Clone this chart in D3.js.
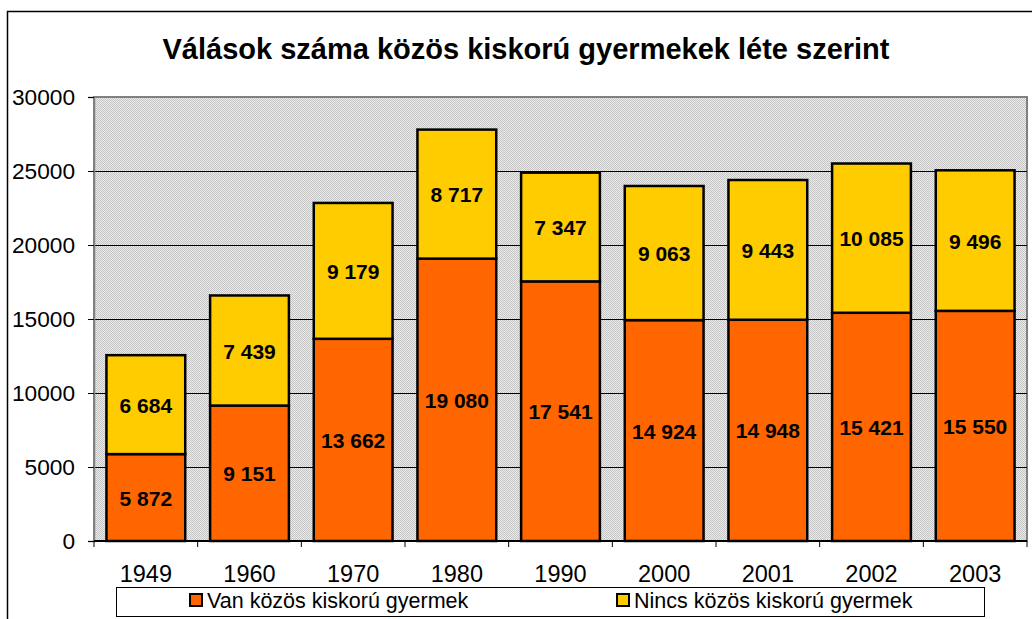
<!DOCTYPE html>
<html>
<head>
<meta charset="utf-8">
<script src="https://cdn.jsdelivr.net/npm/d3@7"></script>
<style>
  body { margin: 0; background: #fff; }
  svg { display: block; font-family: Arial, "Liberation Sans", sans-serif; }
</style>
</head>
<body>
<div class="top"></div>
<script>
// data
const years = ['1949','1960','1970','1980','1990','2000','2001','2002','2003'];
const withKids = [5872, 9151, 13662, 19080, 17541, 14924, 14948, 15421, 15550];
const withoutKids = [6684, 7439, 9179, 8717, 7347, 9063, 9443, 10085, 9496];
const seriesNames = ['Van közös kiskorú gyermek', 'Nincs közös kiskorú gyermek'];
const yTicks = [0, 5000, 10000, 15000, 20000, 25000, 30000];

const W = 1032, H = 619;
const plot = {left: 94, right: 1027, top: 97, bottom: 541};
const colors = ['#FF6600', '#FFCC00'];

const rows = years.map((y, i) => ({year: y, a: withKids[i], b: withoutKids[i]}));
const stacked = d3.stack().keys(['a','b'])(rows);

const x = d3.scaleBand().domain(years).range([plot.left, plot.right]).paddingInner(0.24).paddingOuter(0.12);
const xEdge = d3.scaleBand().domain(years).range([plot.left, plot.right]);
const y = d3.scaleLinear().domain([0, 30000]).range([plot.bottom, plot.top]);
const fmt = v => d3.format(',')(v).replace(/,/g, ' ');

const svg = d3.select('.top').append('svg').attr('width', W).attr('height', H);

svg.append('defs').append('pattern')
  .attr('id','dots').attr('width',2).attr('height',2).attr('patternUnits','userSpaceOnUse')
  .call(p=>{
    p.append('rect').attr('width',2).attr('height',2).attr('fill','#ececec');
    p.append('rect').attr('width',1).attr('height',1).attr('fill','#c4c4c4');
    p.append('rect').attr('x',1).attr('y',1).attr('width',1).attr('height',1).attr('fill','#c4c4c4');
  });

// chart border
svg.append('rect').attr('x',7.5).attr('y',11.5).attr('width',1200).attr('height',800)
  .attr('fill','none').attr('stroke','#000').attr('stroke-width',1.5);

// title
svg.append('text').attr('x',526).attr('y',59).attr('text-anchor','middle')
  .style('font-size','29px').style('font-weight','bold')
  .text('Válások száma közös kiskorú gyermekek léte szerint');

// plot area
svg.append('rect').attr('x',plot.left).attr('y',plot.top)
  .attr('width',plot.right-plot.left).attr('height',plot.bottom-plot.top)
  .attr('fill','url(#dots)').attr('stroke','#808080').attr('stroke-width',2);

// gridlines
svg.append('g').selectAll('line').data(yTicks.filter(t=>t>0 && t<30000)).join('line')
  .attr('x1',plot.left).attr('x2',plot.right)
  .attr('y1',d=>y(d)+0.5).attr('y2',d=>y(d)+0.5)
  .attr('stroke','#000').attr('stroke-width',1);

// y axis
const yAxis = svg.append('g').attr('transform',`translate(${plot.left},0)`)
  .call(d3.axisLeft(y).tickValues(yTicks).tickFormat(d=>d).tickSize(6).tickPadding(13));
yAxis.select('.domain').attr('stroke','#808080').attr('stroke-width',1.5);
yAxis.selectAll('text').style('font-size','22.7px').style('font-family','Arial, "Liberation Sans", sans-serif').attr('fill','#000');

// bars
svg.append('g').selectAll('g').data(stacked).join('g')
  .attr('fill',(d,i)=>colors[i])
  .selectAll('rect').data(d=>d).join('rect')
    .attr('x',d=>x(d.data.year)).attr('width',x.bandwidth())
    .attr('y',d=>y(d[1])).attr('height',d=>y(d[0])-y(d[1]))
    .attr('stroke','#000').attr('stroke-width',2.5);

// bar labels
svg.append('g').selectAll('g').data(stacked).join('g')
  .selectAll('text').data(d=>d).join('text')
    .attr('x',d=>x(d.data.year)+x.bandwidth()/2)
    .attr('y',d=>(y(d[0])+y(d[1]))/2+8)
    .attr('text-anchor','middle')
    .style('font-size','21px').style('font-weight','bold')
    .text(d=>fmt(d[1]-d[0]));

// x axis
svg.append('line').attr('x1',plot.left).attr('x2',plot.right)
  .attr('y1',plot.bottom).attr('y2',plot.bottom).attr('stroke','#000').attr('stroke-width',2);
svg.append('g').selectAll('line').data(years.concat(['end'])).join('line')
  .attr('x1',(d,i)=>plot.left+i*xEdge.bandwidth()).attr('x2',(d,i)=>plot.left+i*xEdge.bandwidth())
  .attr('y1',plot.bottom).attr('y2',plot.bottom+6).attr('stroke','#000');
svg.append('g').selectAll('text').data(years).join('text')
  .attr('x',d=>xEdge(d)+xEdge.bandwidth()/2).attr('y',plot.bottom+41)
  .attr('text-anchor','middle').style('font-size','23.5px')
  .text(d=>d);

// legend
const lg = svg.append('g');
lg.append('rect').attr('x',116.5).attr('y',587.5).attr('width',868).attr('height',29)
  .attr('fill','#fff').attr('stroke','#000').attr('stroke-width',1);
const legendX = [189, 616];
lg.selectAll('g').data(seriesNames).join('g')
  .attr('transform',(d,i)=>`translate(${legendX[i]},593)`)
  .call(sel=>{
    sel.append('rect').attr('x',1).attr('y',1).attr('width',12).attr('height',12)
      .attr('fill',(d,i)=>colors[i]).attr('stroke','#000').attr('stroke-width',2);
    sel.append('text').attr('x',18).attr('y',14.5).style('font-size','21.5px').text(d=>d);
  });
</script>
</body>
</html>
